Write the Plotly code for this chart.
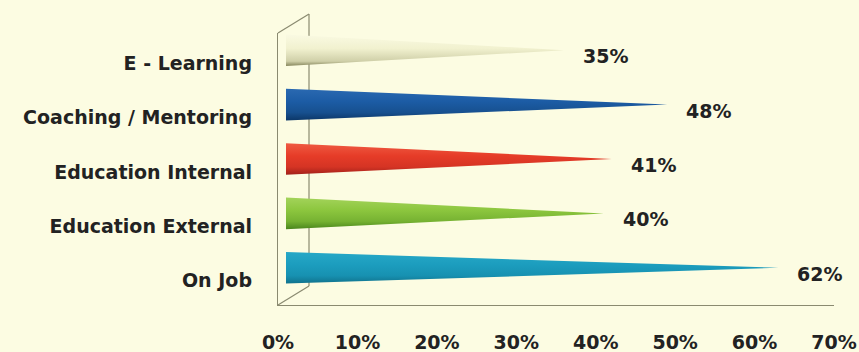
import numpy as np
import plotly.graph_objects as go

# ---- data ----
categories = ["On Job", "Education External", "Education Internal",
              "Coaching / Mentoring", "E - Learning"]
values = [62, 40, 41, 48, 35]
value_labels = ["62%", "40%", "41%", "48%", "35%"]
x_ticks = [0, 10, 20, 30, 40, 50, 60, 70]
x_tick_labels = ["0%", "10%", "20%", "30%", "40%", "50%", "60%", "70%"]

# cone shading, bottom -> top
cone_scales = [
    [[0, "#10728c"], [0.25, "#1791b1"], [0.6, "#1c9dbe"], [1, "#27a8c7"]],
    [[0, "#4a861c"], [0.25, "#76b232"], [0.6, "#8cc63e"], [1, "#a3d35a"]],
    [[0, "#a1211a"], [0.25, "#d53424"], [0.6, "#e63c28"], [1, "#ef5b43"]],
    [[0, "#0c3768"], [0.25, "#17508f"], [0.6, "#1c5ca5"], [1, "#2a69b1"]],
    [[0, "#86865c"], [0.15, "#cfcfa8"], [0.55, "#f1f1cf"], [1, "#fafae2"]],
]

W, H = 859, 352
BG = "#fcfce2"
FRAME = "#8a8a70"
FONT = "DejaVu Sans"
FSIZE = 19
TXT = "#222222"

# front plane of the 3D box (pixels)
FX0, FX1 = 278, 834       # x=0% and x=70%
FY_TOP, FY_BOT = 33, 305
# depth offsets (pixels) for the cone plane, back wall and category labels
CONE_DX, CONE_DY = 8, 10
BACK_DX, BACK_DY = 31, 19
LABEL_DY = -3


def xdom(dx):
    return [(FX0 + dx) / W, (FX1 + dx) / W]


def ydom(dy):
    return [(H - FY_BOT + dy) / H, (H - FY_TOP + dy) / H]


fig = go.Figure()

# invisible traces so the front axes and the label axis are drawn
for ya in ("y", "y3"):
    fig.add_trace(go.Scatter(x=[0], y=[0], xaxis="x", yaxis=ya,
                             mode="markers", marker=dict(opacity=0),
                             hoverinfo="skip", showlegend=False))

# cones: elliptical base at 0, tip at the value
r_y = 0.29      # half height in category units
r_x = 0.8       # base ellipse half width in % units
for i, (v, cs) in enumerate(zip(values, cone_scales)):
    t = np.linspace(1.5 * np.pi, 0.5 * np.pi, 40)
    ex = r_x * np.cos(t)
    ey = i + r_y * np.sin(t)
    xs = list(ex) + [v, ex[0]]
    ys = list(ey) + [i, ey[0]]
    fig.add_trace(go.Scatter(
        x=xs, y=ys, xaxis="x2", yaxis="y2", mode="lines",
        line=dict(width=0), fill="toself",
        fillgradient=dict(type="vertical", colorscale=cs),
        hoverinfo="skip", showlegend=False,
    ))

# value labels beyond each tip
for i, (v, lab) in enumerate(zip(values, value_labels)):
    fig.add_annotation(
        x=v, y=i, xref="x2", yref="y2", text=lab, showarrow=False,
        xanchor="left", yanchor="middle", xshift=17, yshift=-6,
        font=dict(family=FONT, size=FSIZE, color=TXT, weight="bold"),
    )

# back wall edge and the diagonals joining it to the front plane
bx = (FX0 + BACK_DX) / W
fig.add_shape(type="line", xref="paper", yref="paper", layer="below",
              x0=bx, x1=bx, y0=ydom(BACK_DY)[0], y1=ydom(BACK_DY)[1],
              line=dict(color=FRAME, width=1.2))
fig.add_shape(type="line", xref="paper", yref="paper", layer="below",
              x0=FX0 / W, x1=bx, y0=ydom(0)[1], y1=ydom(BACK_DY)[1],
              line=dict(color=FRAME, width=1.2))
fig.add_shape(type="line", xref="paper", yref="paper", layer="below",
              x0=FX0 / W, x1=bx, y0=ydom(0)[0], y1=ydom(BACK_DY)[0],
              line=dict(color=FRAME, width=1.2))

tickfont = dict(family=FONT, size=FSIZE, color=TXT, weight="bold")
fig.update_layout(
    width=W, height=H,
    margin=dict(l=0, r=0, t=0, b=0),
    paper_bgcolor=BG, plot_bgcolor="rgba(0,0,0,0)",
    showlegend=False,
    xaxis=dict(domain=xdom(0), range=[0, 70], tickvals=x_ticks,
               ticktext=x_tick_labels, showgrid=False, zeroline=False,
               showline=True, linecolor=FRAME, linewidth=1.2, ticks="",
               ticklabelstandoff=20, anchor="y", automargin=False,
               tickfont=tickfont),
    yaxis=dict(domain=ydom(0), range=[-0.5, 4.5], showticklabels=False,
               showgrid=False, zeroline=False,
               showline=True, linecolor=FRAME, linewidth=1.2, ticks="",
               anchor="x", automargin=False),
    yaxis3=dict(domain=ydom(LABEL_DY), range=[-0.5, 4.5],
                tickvals=list(range(5)), ticktext=categories,
                showgrid=False, zeroline=False, showline=False, ticks="",
                ticklabelstandoff=26, anchor="free", position=FX0 / W,
                automargin=False, tickfont=tickfont),
    xaxis2=dict(domain=xdom(CONE_DX), range=[0, 70], visible=False,
                anchor="y2", automargin=False),
    yaxis2=dict(domain=ydom(CONE_DY), range=[-0.5, 4.5], visible=False,
                anchor="x2", automargin=False),
)

fig.write_html("out.html")
